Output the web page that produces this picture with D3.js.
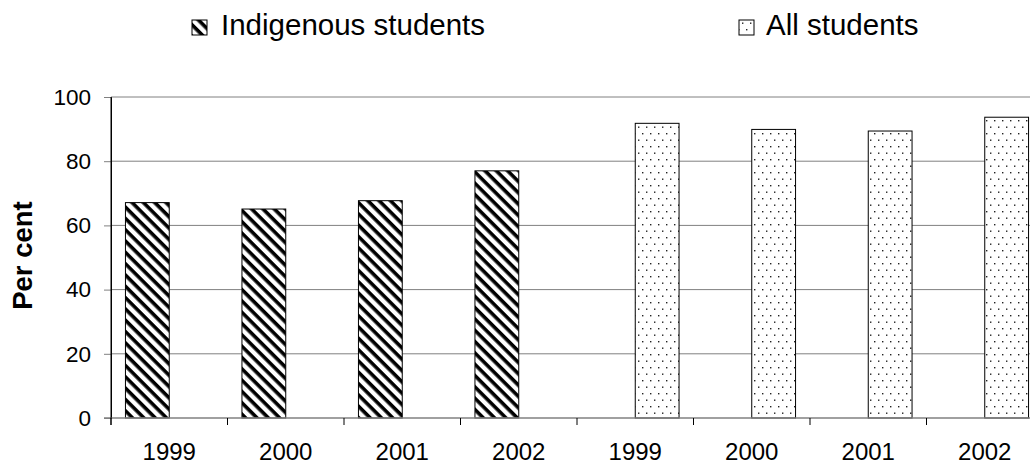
<!DOCTYPE html>
<html>
<head>
<meta charset="utf-8">
<script src="https://d3js.org/d3.v7.min.js"></script>
<style>
  html, body { margin: 0; padding: 0; background: #fff; }
  svg { display: block; font-family: "Liberation Sans", Arial, sans-serif; }
</style>
</head>
<body>
<svg id="chart" width="1030" height="466"></svg>
<script>
// Chart data
const groups = ['Indigenous students', 'All students'];
const years = ['1999', '2000', '2001', '2002'];
const indigenousValues = [67.1, 65.1, 67.7, 77.0];
const allValues = [91.8, 89.9, 89.4, 93.7];
const yTicks = [0, 20, 40, 60, 80, 100];

const svg = d3.select('#chart');
const margin = { top: 97, bottom: 48, left: 111 };
const height = 466;

// One category per group/year, the years repeat under each group
const categories = [];
groups.forEach(g => years.forEach(y => categories.push(g + '|' + y)));

const xScale = d3.scaleBand()
  .domain(categories)
  .range([margin.left, 1043])
  .padding(0);

// Two series slots inside every category (Excel clustered style)
const slot = d3.scaleBand()
  .domain(groups)
  .range([0, xScale.bandwidth()])
  .paddingInner(0)
  .paddingOuter(0.33);

const yScale = d3.scaleLinear()
  .domain([0, 100])
  .range([height - margin.bottom, margin.top]);

// Fill patterns
const defs = svg.append('defs');
const hatch = defs.append('pattern')
  .attr('id', 'hatch')
  .attr('patternUnits', 'userSpaceOnUse')
  .attr('width', 8).attr('height', 8)
  .attr('patternTransform', 'rotate(45)');
hatch.append('rect').attr('width', 8).attr('height', 8).attr('fill', '#fff');
hatch.append('rect').attr('width', 8).attr('height', 3.6).attr('fill', '#000');

const dots = defs.append('pattern')
  .attr('id', 'dots')
  .attr('patternUnits', 'userSpaceOnUse')
  .attr('width', 8).attr('height', 13);
dots.append('rect').attr('width', 8).attr('height', 13).attr('fill', '#fff');
dots.append('rect').attr('x', 2).attr('y', 3).attr('width', 1.4).attr('height', 1.4).attr('fill', '#222');
dots.append('rect').attr('x', 6).attr('y', 9.5).attr('width', 1.4).attr('height', 1.4).attr('fill', '#222');

const fills = { 'Indigenous students': 'url(#hatch)', 'All students': 'url(#dots)' };

// Gridlines
svg.append('g')
  .attr('class', 'grid')
  .selectAll('line')
  .data(yTicks.filter(d => d > 0))
  .join('line')
  .attr('x1', margin.left)
  .attr('x2', 1043)
  .attr('y1', d => yScale(d))
  .attr('y2', d => yScale(d))
  .attr('stroke', '#808080')
  .attr('stroke-width', 1);

// Bars
const barData = [];
years.forEach((y, i) => {
  barData.push({ group: groups[0], key: groups[0] + '|' + y, value: indigenousValues[i] });
  barData.push({ group: groups[1], key: groups[1] + '|' + y, value: allValues[i] });
});

svg.append('g')
  .selectAll('rect')
  .data(barData)
  .join('rect')
  .attr('x', d => xScale(d.key) + slot(d.group))
  .attr('width', slot.bandwidth())
  .attr('y', d => yScale(d.value))
  .attr('height', d => yScale(0) - yScale(d.value))
  .attr('fill', d => fills[d.group])
  .attr('stroke', '#000')
  .attr('stroke-width', 1);

// Y axis
const yAxis = svg.append('g')
  .attr('transform', `translate(${margin.left},0)`)
  .call(d3.axisLeft(yScale).tickValues(yTicks).tickSize(7).tickPadding(13));
yAxis.select('.domain').attr('stroke', '#000');
yAxis.selectAll('.tick line').attr('stroke', '#808080');
yAxis.selectAll('.tick text')
  .attr('font-size', 22.5)
  .attr('font-family', '"Liberation Sans", Arial, sans-serif')
  .attr('fill', '#000');

// X axis (ticks on category boundaries)
const xAxis = svg.append('g')
  .attr('transform', `translate(0,${yScale(0)})`);
xAxis.append('line')
  .attr('x1', margin.left - 7).attr('x2', 1043)
  .attr('stroke', '#808080').attr('stroke-width', 1.5);
xAxis.selectAll('.xtick')
  .data(categories)
  .join('line')
  .attr('class', 'xtick')
  .attr('x1', d => xScale(d)).attr('x2', d => xScale(d))
  .attr('y1', 0).attr('y2', 7)
  .attr('stroke', '#000');
xAxis.selectAll('.xlabel')
  .data(categories)
  .join('text')
  .attr('class', 'xlabel')
  .attr('x', d => xScale(d) + xScale.bandwidth() / 2)
  .attr('y', 42)
  .attr('text-anchor', 'middle')
  .attr('font-size', 24)
  .text(d => d.split('|')[1]);

// Redraw the vertical axis line over the baseline
svg.append('line')
  .attr('x1', margin.left).attr('x2', margin.left)
  .attr('y1', yScale(100)).attr('y2', yScale(0) + 7)
  .attr('stroke', '#000');

// Y title
svg.append('text')
  .attr('transform', `translate(32,${(yScale(0) + yScale(100)) / 2 - 2}) rotate(-90)`)
  .attr('text-anchor', 'middle')
  .attr('font-size', 27.5)
  .attr('font-weight', 'bold')
  .text('Per cent');

// Legend
const legendPos = [{ sx: 192, tx: 221 }, { sx: 739, tx: 766 }];
const legend = svg.append('g')
  .selectAll('g')
  .data(groups)
  .join('g');
legend.append('rect')
  .attr('x', (d, i) => legendPos[i].sx)
  .attr('y', 20)
  .attr('width', 15).attr('height', 15)
  .attr('fill', d => fills[d])
  .attr('stroke', '#000');
legend.append('text')
  .attr('x', (d, i) => legendPos[i].tx)
  .attr('y', 35)
  .attr('font-size', 29.5)
  .text(d => d);
</script>
</body>
</html>
